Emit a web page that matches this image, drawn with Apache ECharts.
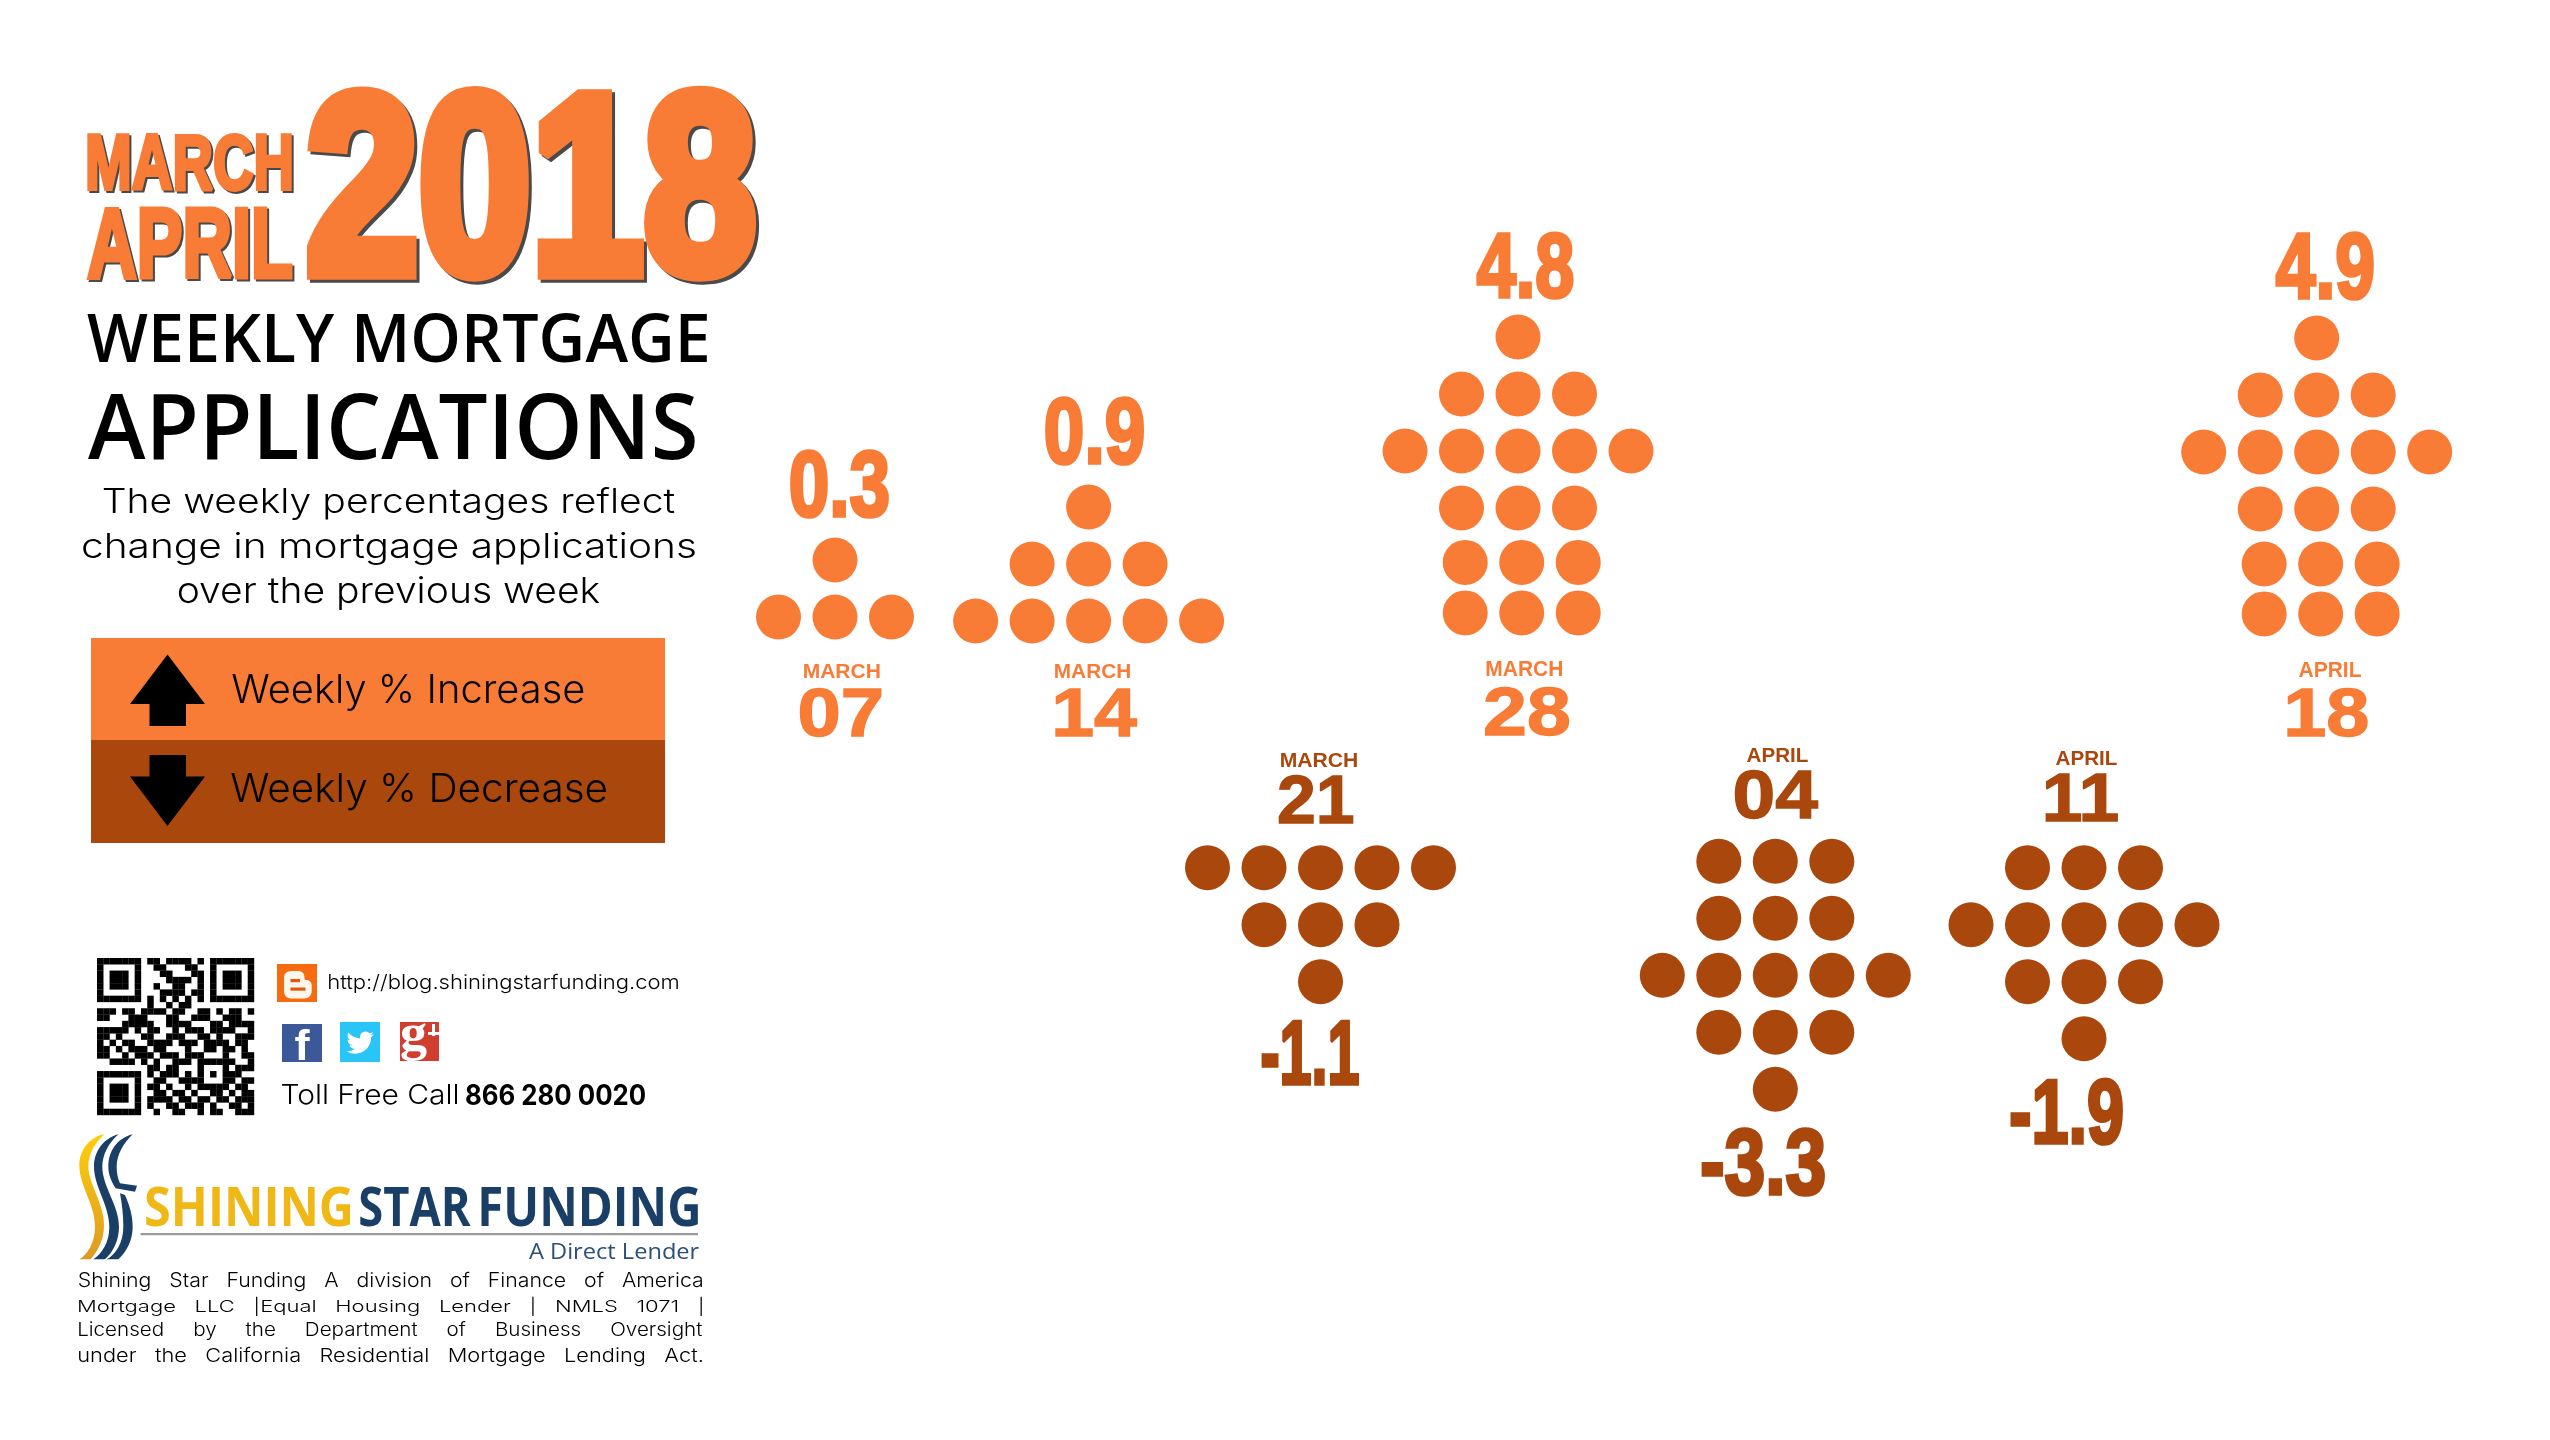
<!DOCTYPE html>
<html><head><meta charset="utf-8">
<style>html,body{margin:0;padding:0;background:#fff}#c{width:2550px;height:1440px}</style>
<script src="https://cdn.jsdelivr.net/npm/echarts@6/dist/echarts.min.js"></script>
</head><body><div id="c"></div>
<script>
// ---- data ----
const months   = ['MARCH','MARCH','MARCH','MARCH','APRIL','APRIL','APRIL'];
const days     = ['07','14','21','28','04','11','18'];
const changes  = [0.3, 0.9, -1.1, 4.8, -3.3, -1.9, 4.9];
// dots per row of each week's arrow, top to bottom
const dotRows  = [[1,3],[1,3,5],[5,3,1],[1,3,5,3,3,3],[3,3,5,3,1],[3,5,3,1],[1,3,5,3,3,3]];

// ---- layout and styling ----
const ORANGE='#F87B36', BROWN='#A9470D';
const STEPX=56.5, STEPY=57, DOT=45;
// centre column x, first row y
const origin=[[835,560],[1088.6,507],[1320.5,867.7],[1518,337],[1775.3,861.3],[2084,867.7],[2316.7,338]];
// row nudges of the hand placed lower rows: [row position, column shift]
const nudged={3:[[4,3.954,.066],[5,4.84,.066]],6:[[4,3.965,.07],[5,4.84,.07]]};
// text boxes [x0,x1,y0,y1]
const valueBox=[[789.5,889,449.5,519],[1044.6,1144,396,466],[1261,1359,1019,1085.7],[1476,1574,231,299.5],[1701,1825,1127,1196.7],[2010,2123,1077,1145.7],[2275,2374,232,301]];
const monthBox=[[804,879.5,663,678],[1055,1130,663,678],[1281,1357,752,767],[1486.6,1562,661,676.5],[1747,1808,747.7,762],[2056,2117,750,765],[2299,2361,662,677.5]];
const dayBox=[[799,882,688,737.7],[1055,1138,688,737],[1278.4,1353.5,775,824],[1484.7,1569.5,686,736],[1734,1819,770,819.7],[2045.4,2118,772.7,821.7],[2287,2368,687,737]];

const qr=[
'1111111011011110101111111','1000001001100011001000001','1011101000110001101011101','1011101000011110101011101',
'1011101001001100101011101','1000001000111101101000001','1111111010101010101111111','0000000010010110000000000',
'1110110111101100110101101','1100011100011001110011100','0000111110011110001101111','1111101011001011101111001',
'1101000110011100110100111','1010110011110111011110110','1101011101100010011011010','1100101110111011100010011',
'0011110101001110111111001','0000000011011000100010111','1111111010111010101011100','1000001001100111100011011',
'1011101011010010111110110','1011101001101101001101011','1011101011110110110110111','1000001010011011101001101','1111111001001100101100111'];

const ctx=document.createElement('canvas').getContext('2d');
function fit(text,font,b,fill,o){
  o=o||{};const lw=o.lw||0;
  ctx.font=font;ctx.textBaseline='middle';ctx.textAlign='left';
  const m=ctx.measureText(text),l=m.actualBoundingBoxLeft,r=m.actualBoundingBoxRight,a=m.actualBoundingBoxAscent,d=m.actualBoundingBoxDescent;
  const sx=(b[1]-b[0])/(l+r+lw),sy=(b[3]-b[2])/(a+d+lw);
  const style={text,font,fill,align:'left',verticalAlign:'middle'};
  if(lw){style.stroke=fill;style.lineWidth=lw;}
  return {type:'text',silent:true,x:b[0]+(l+lw/2)*sx,y:b[2]+(a+lw/2)*sy,scaleX:sx,scaleY:sy,style};
}
// heavy text with a hard drop edge: a dark copy under the coloured one
function dropped(text,font,b,fill,lw,off){
  return [fit(text,font,[b[0]+off,b[1]+off,b[2]+off,b[3]+off],'#4a4a4a',{lw}),fit(text,font,b,fill,{lw})];
}
const rect=(x,y,w,h,fill)=>({type:'rect',silent:true,shape:{x,y,width:w,height:h},style:{fill}});
const poly=(points,fill)=>({type:'polygon',silent:true,shape:{points},style:{fill}});
let pid=0;
function path(d,x,y,s,fill){
  const name='logoPath'+(pid++);
  echarts.graphic.registerShape(name,echarts.graphic.extendPath(d,{}));
  return {type:name,silent:true,x,y,scaleX:s,scaleY:s,style:{fill}};
}

const HEAVY='bold 100px "Liberation Sans"', GEO='300 100px Inter', GEOB='700 100px Inter', HEAD='600 100px "Open Sans"';
const g=[];
// title block
g.push(...dropped('MARCH',HEAVY,[87,292,133,192],ORANGE,5,2));
g.push(...dropped('APRIL',HEAVY,[87,293,205,280],ORANGE,5,2));
g.push(...dropped('2018',HEAVY,[306,757,86,282],ORANGE,6,3));
g.push(fit('WEEKLY MORTGAGE',HEAD,[87,707,314,363],'#000'));
g.push(fit('APPLICATIONS',HEAD,[88,695,394,460],'#000'));
g.push(fit('The weekly percentages reflect',GEO,[103.6,674.5,487,520],'#000'));
g.push(fit('change in mortgage applications',GEO,[83,695,532,565],'#000'));
g.push(fit('over the previous week',GEO,[178.6,599.5,576,610],'#000'));
// legend
g.push(rect(91,638,574,102,ORANGE),rect(91,740,574,103,BROWN));
g.push(poly([[167.5,654.5],[205,704],[186,704],[186,726],[149.5,726],[149.5,704],[130,704]],'#000'));
g.push(poly([[167.5,826],[205,776.5],[186,776.5],[186,755],[149.5,755],[149.5,776.5],[130,776.5]],'#000'));
g.push(fit('Weekly % Increase',GEO,[232,583.5,674,711],'#000'));
g.push(fit('Weekly % Decrease',GEO,[231,606,772,810],'#000'));
// QR code
const QX=97,QY=958,QM=157/25;
qr.forEach((row,j)=>{[...row].forEach((c,i)=>{if(c==='1')g.push(rect(QX+i*QM,QY+j*QM,QM+.2,QM+.2,'#000'));});});
// contact icons
g.push(rect(277,964,40,38,'#F66A10'));
g.push(path('M292 971 C286 971 284 974 284 978 L284 991 C284 996 287 998.5 292 998.5 L304 998.5 C309 998.5 311.7 995 311.7 991 L311.7 985 C311.7 982 309 980 306 980 C304.5 980 304.5 979 304.5 978 C304.5 973 302 971 298 971 Z',0,0,1,'#FFF6EC'));
g.push(rect(290.5,979,9.5,3.2,'#E2590E'),rect(290.5,987.5,15,3.2,'#E2590E'));
g.push(fit('http://blog.shiningstarfunding.com',GEO,[329,678,974,993.5],'#000'));
g.push(rect(282,1024,40,38,'#3B5998'));
g.push(fit('f',HEAVY,[295,310,1029,1060],'#fff'));
g.push(rect(340,1022,40,40,'#29C5F6'));
g.push(path('M23.95 4.57a10 10 0 0 1-2.82.77 4.96 4.96 0 0 0 2.16-2.72 9.9 9.9 0 0 1-3.12 1.19 4.92 4.92 0 0 0-8.38 4.48A13.98 13.98 0 0 1 1.64 3.16a4.82 4.82 0 0 0-.67 2.48c0 1.71.87 3.21 2.19 4.1a4.9 4.9 0 0 1-2.23-.62v.06a4.92 4.92 0 0 0 3.95 4.83 5 5 0 0 1-2.21.08 4.94 4.94 0 0 0 4.6 3.42A9.87 9.87 0 0 1 0 19.54a14 14 0 0 0 7.56 2.21c9.05 0 14-7.5 14-13.98 0-.21 0-.42-.02-.63a9.94 9.94 0 0 0 2.41-2.57z',346.5,1029,1.14,'#fff'));
g.push(rect(400,1022,39,39,'#CF3E2E'));
g.push(fit('g','bold 100px "Liberation Serif"',[401,427,1022,1061],'#fff'));
g.push(rect(428,1032,11,3,'#fff'),rect(432,1024,3,12,'#fff'));
g.push(fit('Toll Free Call',GEO,[282,457,1084,1105],'#000'));
g.push(fit('866 280 0020',GEOB,[466,645,1084,1105],'#000'));
// company mark
const gold=new echarts.graphic.LinearGradient(0,0,0,1,[{offset:0,color:'#FFCE0A'},{offset:1,color:'#DD9A22'}]);
const NAVY='#1A3F66';
g.push(path('M103 13 C60 20 28 60 28 105 C28 170 75 220 75 290 C75 340 50 375 28 388 L62 388 C85 360 102 330 102 285 C102 220 57 165 55 110 C55 70 75 40 103 13 Z',70,1130,1/3,gold));
g.push(path('M145 13 C100 25 72 65 72 110 C72 170 118 225 118 290 C118 340 95 370 70 388 L105 388 C130 365 147 330 147 290 C147 225 97 170 97 110 C97 75 115 40 145 13 Z',70,1130,1/3,NAVY));
g.push(path('M188 13 C140 25 115 65 115 110 C115 135 125 155 137 175 L195 185 L201 167 L150 160 C143 145 140 128 140 110 C140 75 160 40 188 13 Z M150 190 C156 222 160 256 160 290 C160 340 135 375 110 388 L145 388 C170 365 188 330 188 290 C188 255 178 225 165 195 Z',70,1130,1/3,NAVY));
g.push(fit('SHINING','700 100px "Open Sans"',[146,350.4,1187,1227],'#F0B814'));
g.push(fit('STAR','700 100px "Open Sans"',[360,471,1187,1227],NAVY));
g.push(fit('FUNDING','700 100px "Open Sans"',[481,698,1187,1227],NAVY));
g.push(rect(140.6,1233,557.4,2.2,'#9a9a9a'));
g.push(fit('A Direct Lender','400 100px "Open Sans"',[529,699,1242,1259],'#2A4F78'));
// justified notice: one string per line with gaps widened by repeated spaces
function spaced(line,width,gapPx){
  ctx.font=GEO;
  const words=line.split(' '),natural=words.reduce((s,w)=>s+ctx.measureText(w).width,0);
  const scale=(width-gapPx*(words.length-1))/natural;
  const n=Math.max(1,Math.round(gapPx/(ctx.measureText(' ').width*scale)));
  return words.join(' '.repeat(n));
}
[['Shining Star Funding A division of Finance of America',1271.7,1291,19],
 ['Mortgage LLC |Equal Housing Lender | NMLS 1071 |',1296.7,1316,20.5],
 ['Licensed by the Department of Business Oversight',1321.7,1340,27],
 ['under the California Residential Mortgage Lending Act.',1347,1366,18.5]].forEach(([t,a,b,gap])=>{
  g.push(fit(spaced(t,623,gap),GEO,[79,702,a,b],'#000'));
});
// week labels and dots
const grids=[],xAxes=[],yAxes=[],series=[];
changes.forEach((v,w)=>{
  const col=v>=0?ORANGE:BROWN,rows=dotRows[w];
  g.push(fit(v.toFixed(1),HEAVY,valueBox[w],col,{lw:4}));
  g.push(fit(months[w],HEAVY,monthBox[w],col));
  g.push(fit(days[w],HEAVY,dayBox[w],col,{lw:2}));
  grids.push({left:origin[w][0]-2.5*STEPX,top:origin[w][1]-STEPY/2,width:5*STEPX,height:STEPY*rows.length});
  xAxes.push({type:'value',gridIndex:w,min:-2.5,max:2.5,show:false});
  yAxes.push({type:'value',gridIndex:w,min:-.5,max:rows.length-.5,inverse:true,show:false});
  const pts=[];
  rows.forEach((n,r)=>{
    const ng=(nudged[w]||[]).find(e=>e[0]===r);
    for(let i=0;i<n;i++)pts.push([i-(n-1)/2+(ng?ng[2]:0),ng?ng[1]:r]);
  });
  series.push({type:'scatter',xAxisIndex:w,yAxisIndex:w,data:pts,symbol:'circle',symbolSize:DOT,silent:true,itemStyle:{color:col,opacity:1},clip:false,animation:false});
});
const chart=echarts.init(document.getElementById('c'),null,{width:2550,height:1440});
chart.setOption({backgroundColor:'#fff',animation:false,tooltip:{show:false},grid:grids,xAxis:xAxes,yAxis:yAxes,series,graphic:{elements:g}});
</script></body></html>
